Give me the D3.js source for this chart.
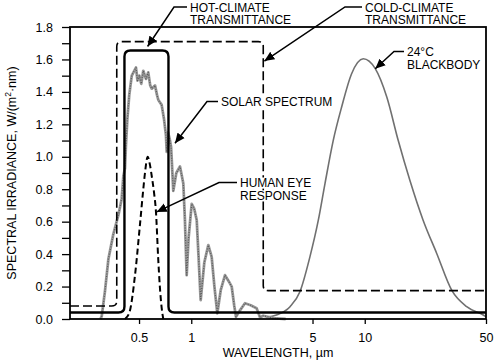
<!DOCTYPE html>
<html>
<head>
<meta charset="utf-8">
<script src="https://cdn.jsdelivr.net/npm/d3@7"></script>
<style>
  html, body { margin: 0; padding: 0; background: #fff; }
  svg { display: block; }
  text { font-family: "Liberation Sans", Arial, sans-serif; fill: #000; }
</style>
</head>
<body>
<svg id="chart" width="500" height="364"></svg>
<script>
// ---------- DATA ----------
const xTicks = [0.5, 1, 5, 10, 50];
const yTicks = [0, 0.1, 0.2, 0.3, 0.4, 0.5, 0.6, 0.7, 0.8, 0.9, 1.0, 1.1, 1.2, 1.3, 1.4, 1.5, 1.6, 1.7, 1.8];

// Hot-climate transmittance (solid, scaled to irradiance axis)
const hotTransmittance = [[0.2, 0.04], [0.412, 0.04], [0.412, 1.655], [0.739, 1.655], [0.739, 0.04], [50, 0.04]];
// Cold-climate transmittance (dashed)
const coldTransmittance = [[0.2, 0.08], [0.372, 0.08], [0.372, 1.71], [2.6, 1.71], [2.6, 0.175], [50, 0.175]];
// Human eye response (dashed bell)
const eyeResponse = [[0.415, 0], [0.44, 0.04], [0.474, 0.27], [0.506, 0.58], [0.529, 0.8], [0.541, 0.9], [0.561, 1.0], [0.578, 0.95], [0.592, 0.88], [0.61, 0.78], [0.626, 0.66], [0.645, 0.37], [0.66, 0.19], [0.675, 0.07], [0.69, 0]];
// Solar spectrum
const solarSpectrum = [[0.30, 0], [0.305, 0.02], [0.318, 0.17], [0.333, 0.37], [0.355, 0.52], [0.38, 0.64], [0.397, 0.74], [0.406, 0.88], [0.415, 0.93], [0.42, 1.07], [0.428, 1.23], [0.439, 1.38], [0.454, 1.50], [0.48, 1.55], [0.49, 1.47], [0.502, 1.50], [0.515, 1.45], [0.529, 1.53], [0.548, 1.48], [0.565, 1.52], [0.58, 1.44], [0.592, 1.42], [0.618, 1.44], [0.635, 1.38], [0.646, 1.35], [0.675, 1.32], [0.696, 1.235], [0.715, 1.13], [0.722, 1.03], [0.735, 1.15], [0.754, 1.10], [0.765, 1.06], [0.788, 0.79], [0.82, 0.90], [0.861, 0.94], [0.90, 0.835], [0.92, 0.6], [0.941, 0.27], [0.965, 0.5], [1.006, 0.71], [1.04, 0.68], [1.075, 0.61], [1.10, 0.4], [1.133, 0.117], [1.19, 0.35], [1.254, 0.455], [1.311, 0.383], [1.36, 0.2], [1.413, 0.035], [1.48, 0.18], [1.565, 0.27], [1.65, 0.23], [1.71, 0.2], [1.77, 0.08], [1.81, 0.014], [1.9, 0.05], [2.04, 0.097], [2.2, 0.085], [2.38, 0.066], [2.49, 0.01], [2.6, 0.02], [2.97, 0.005], [3.5, 0]];
// 24 °C blackbody
const blackbody = [[2.7, 0.01], [3.1, 0.025], [3.71, 0.076], [4.23, 0.168], [4.83, 0.383], [5.4, 0.609], [5.9, 0.835], [6.58, 1.10], [7.36, 1.307], [8.4, 1.512], [9.8, 1.604], [11.5, 1.543], [13.4, 1.368], [15.6, 1.10], [18.2, 0.855], [21.7, 0.609], [26, 0.404], [31.7, 0.178], [38.7, 0.076], [48.2, 0.025], [50, 0.015]];

// Annotations: label lines, text anchor and arrow target (data units)
const annotations = [
  { lines: ["HOT-CLIMATE", "TRANSMITTANCE"], tx: 190, ty: 11.5, target: [0.56, 1.68], elbow: 13 },
  { lines: ["COLD-CLIMATE", "TRANSMITTANCE"], tx: 365, ty: 11.5, target: [2.64, 1.59], elbow: 17 },
  { lines: ["24°C", "BLACKBODY"], tx: 407, ty: 56, target: [11.5, 1.543], elbow: 10 },
  { lines: ["SOLAR SPECTRUM"], tx: 221, ty: 106, target: [0.806, 1.083], elbow: 11 },
  { lines: ["HUMAN EYE", "RESPONSE"], tx: 240, ty: 187, target: [0.632, 0.66], elbow: 18 }
];

// ---------- LAYOUT ----------
const svg = d3.select("#chart");
const M = { left: 70, right: 14, top: 27, bottom: 45 };
const W = 500, H = 364;
const x = d3.scaleLog().domain([0.2, 50]).range([M.left, W - M.right]);
const y = d3.scaleLinear().domain([0, 1.8]).range([H - M.bottom, M.top]);

// rounded polyline helper (corner radius in px)
function roundedPath(pts, r) {
  const p = pts.map(d => [x(d[0]), y(d[1])]);
  let s = `M${p[0][0]},${p[0][1]}`;
  for (let i = 1; i < p.length - 1; i++) {
    const a = p[i - 1], b = p[i], c = p[i + 1];
    const d1 = Math.hypot(b[0] - a[0], b[1] - a[1]), d2 = Math.hypot(c[0] - b[0], c[1] - b[1]);
    const rr = Math.min(r, d1 / 2, d2 / 2);
    const p1 = [b[0] + (a[0] - b[0]) * rr / d1, b[1] + (a[1] - b[1]) * rr / d1];
    const p2 = [b[0] + (c[0] - b[0]) * rr / d2, b[1] + (c[1] - b[1]) * rr / d2];
    s += `L${p1[0]},${p1[1]}Q${b[0]},${b[1]} ${p2[0]},${p2[1]}`;
  }
  const l = p[p.length - 1];
  s += `L${l[0]},${l[1]}`;
  return s;
}

const line = d3.line().x(d => x(d[0])).y(d => y(d[1]));

// ---------- AXES ----------
const yAxis = d3.axisLeft(y).tickValues(yTicks).tickSize(8).tickSizeOuter(0).tickPadding(9)
  .tickFormat(d => (Math.round(d * 10) % 2 === 0) ? d.toFixed(1) : "");
const gy = svg.append("g").attr("transform", `translate(${M.left},0)`).call(yAxis);
gy.select(".domain").remove();
gy.selectAll("line").attr("stroke", "#000").attr("stroke-width", 1.3);
gy.selectAll("text").attr("font-size", 12.5).attr("font-family", "Liberation Sans, Arial, sans-serif");

const xAxis = d3.axisBottom(x).tickValues(xTicks).tickSize(5).tickSizeOuter(0).tickPadding(9)
  .tickFormat(d => String(d));
const gx = svg.append("g").attr("transform", `translate(0,${H - M.bottom})`).call(xAxis);
gx.select(".domain").remove();
gx.selectAll("line").attr("stroke", "#000").attr("stroke-width", 1.3);
gx.selectAll("text").attr("font-size", 12.5).attr("font-family", "Liberation Sans, Arial, sans-serif");

// ---------- SERIES ----------
// blackbody
svg.append("path").datum(blackbody)
  .attr("d", line.curve(d3.curveMonotoneX))
  .attr("fill", "none").attr("stroke", "#707070").attr("stroke-width", 1.6);

// solar spectrum (speckled grey)
const solarLine = d3.line().x(d => x(d[0])).y(d => y(d[1])).curve(d3.curveLinear);
svg.append("path").datum(solarSpectrum)
  .attr("d", solarLine)
  .attr("fill", "none").attr("stroke", "#999").attr("stroke-width", 2.8).attr("stroke-linejoin", "round");
svg.append("path").datum(solarSpectrum)
  .attr("d", solarLine)
  .attr("fill", "none").attr("stroke", "#5a5a5a").attr("stroke-width", 1.2)
  .attr("stroke-dasharray", "1,1.5").attr("stroke-linejoin", "round");

// cold-climate transmittance
svg.append("path").attr("d", roundedPath(coldTransmittance, 5))
  .attr("fill", "none").attr("stroke", "#000").attr("stroke-width", 1.6).attr("stroke-dasharray", "9,4");

// hot-climate transmittance
svg.append("path").attr("d", roundedPath(hotTransmittance, 6))
  .attr("fill", "none").attr("stroke", "#000").attr("stroke-width", 2.4);

// eye response
svg.append("path").datum(eyeResponse)
  .attr("d", d3.line().x(d => x(d[0])).y(d => y(d[1])).curve(d3.curveMonotoneX))
  .attr("fill", "none").attr("stroke", "#000").attr("stroke-width", 2).attr("stroke-dasharray", "6,3.5");

// frame
svg.append("rect")
  .attr("x", M.left).attr("y", M.top)
  .attr("width", W - M.right - M.left).attr("height", H - M.bottom - M.top)
  .attr("fill", "none").attr("stroke", "#000").attr("stroke-width", 1.8);

// ---------- ANNOTATIONS ----------
const defs = svg.append("defs");
defs.append("marker").attr("id", "arr").attr("viewBox", "0 0 10 10")
  .attr("refX", 10).attr("refY", 5).attr("markerWidth", 10).attr("markerHeight", 10)
  .attr("markerUnits", "userSpaceOnUse").attr("orient", "auto")
  .append("path").attr("d", "M0,0.5 L10,5 L0,9.5 Z").attr("fill", "#000");

annotations.forEach(a => {
  const g = svg.append("g");
  const bg = g.append("g");
  const texts = a.lines.map((s, i) => g.append("text")
    .attr("x", a.tx).attr("y", a.ty + i * 12.8)
    .attr("font-size", 12).text(s));
  texts.forEach(t => {
    const b = t.node().getBBox();
    bg.append("rect").attr("x", b.x - 1).attr("y", b.y + 1.5)
      .attr("width", b.width + 2).attr("height", b.height - 3).attr("fill", "#fff");
  });
  const ly = a.ty - 4.5;
  const ex = a.tx - 3, bx = ex - a.elbow;
  g.append("path")
    .attr("d", `M${ex},${ly} L${bx},${ly} L${x(a.target[0])},${y(a.target[1])}`)
    .attr("fill", "none").attr("stroke", "#000").attr("stroke-width", 1.5)
    .attr("marker-end", "url(#arr)");
});

// ---------- AXIS TITLES ----------
const yt = svg.append("text")
  .attr("transform", `translate(15.5,${(M.top + H - M.bottom) / 2}) rotate(-90)`)
  .attr("text-anchor", "middle").attr("font-size", 12.5);
yt.append("tspan").text("SPECTRAL IRRADIANCE, W/(m");
yt.append("tspan").attr("font-size", 8.5).attr("dy", -5).text("2");
yt.append("tspan").attr("dy", 5).text("·nm)");

svg.append("text").attr("x", (M.left + W - M.right) / 2).attr("y", 357)
  .attr("text-anchor", "middle").attr("font-size", 12.5).text("WAVELENGTH, µm");
</script>
</body>
</html>
